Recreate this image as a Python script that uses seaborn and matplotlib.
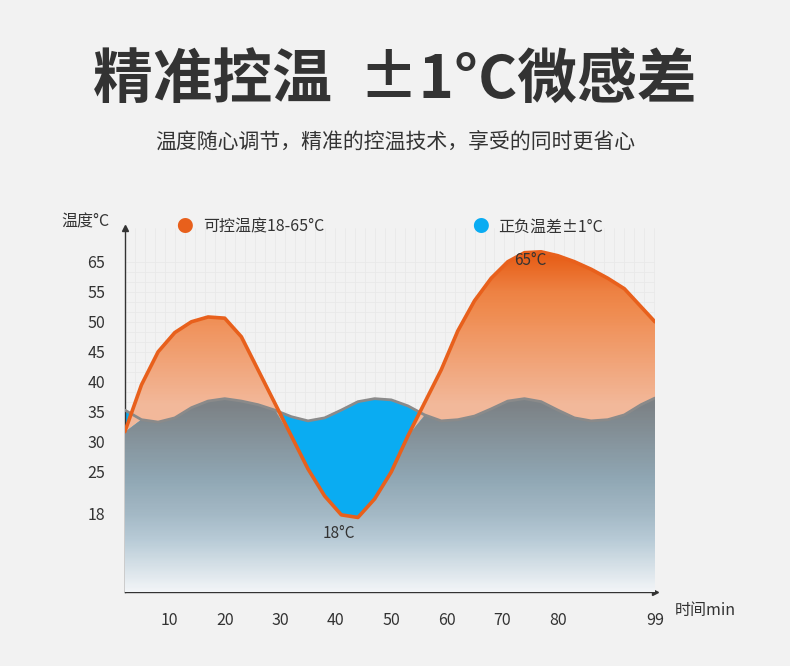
import numpy as np
import pandas as pd
import matplotlib
matplotlib.use("Agg")
import matplotlib.pyplot as plt
from matplotlib.colors import LinearSegmentedColormap
from matplotlib.patches import PathPatch
import seaborn as sns

# data
minutes = [2, 5, 8, 11, 14, 17, 20, 23, 26, 29, 32, 35, 38, 41, 44, 47, 50,
           53, 56, 59, 62, 65, 68, 71, 74, 77, 80, 83, 86, 89, 92, 95, 97.5]
temp_range = [31.7, 39.5, 45, 48.2, 50, 50.8, 50.6, 47.5, 42, 36.5, 31, 25.5, 21,
              17.8, 17.2, 20.5, 25, 31, 36.5, 42, 48.5, 53.5, 59.5, 65, 68, 68.3,
              67, 65, 62.5, 59.5, 56, 52.5, 50]
temp_wave = [35.3, 33.7, 33.3, 34, 35.7, 36.8, 37.2, 36.8, 36.2, 35.3, 34.2, 33.5,
             34, 35.3, 36.7, 37.2, 37, 36, 34.5, 33.5, 33.7, 34.3, 35.5, 36.8, 37.2,
             36.7, 35.3, 34, 33.5, 33.7, 34.5, 36.2, 37.3]
y_ticks = [18, 25, 30, 35, 40, 45, 50, 55, 65]
x_ticks = [10, 20, 30, 40, 50, 60, 70, 80, 97.5]
x_labels = ["10", "20", "30", "40", "50", "60", "70", "80", "99"]
legend_names = ["可控温度18-65°C", "正负温差±1°C"]

df = pd.DataFrame({"min": minutes, "range": temp_range, "wave": temp_wave})

sns.set_theme(style="white")
plt.rcParams["font.family"] = ["Noto Sans CJK SC", "DejaVu Sans"]

# uneven temperature axis as in the picture
scale_v = [0, 18, 25, 30, 35, 40, 45, 50, 55, 65, 80]
scale_p = [0, 78, 120, 150, 180, 210, 240, 270, 300, 330, 375]
fwd = lambda v: np.interp(v, scale_v, scale_p)
inv = lambda p: np.interp(p, scale_p, scale_v)

fig = plt.figure(figsize=(7.9, 6.66), dpi=100, facecolor="#f2f2f2")
ax = fig.add_axes([0.158, 0.111, 0.671, 0.547])
ax.set_facecolor("#f2f2f2")
ax.set_yscale("function", functions=(fwd, inv))
ax.set_xlim(2, 97.5)
ax.set_ylim(0, 76.3)

# faint background grid
for gx in np.arange(2, 98, 1.8):
    ax.axvline(gx, color="#e9e9e9", lw=0.6, zorder=0)
for gp in np.arange(0, 340, 10):
    ax.axhline(inv(gp), color="#e9e9e9", lw=0.6, zorder=0)

x = df["min"].values
lo = np.minimum(df["range"].values, df["wave"].values)


def gradient(upper, lower, colors, vmin, vmax, z):
    verts = np.vstack([np.column_stack([x, upper]), np.column_stack([x[::-1], lower[::-1]])])
    patch = PathPatch(matplotlib.path.Path(verts, closed=False), transform=ax.transData,
                      facecolor="none", edgecolor="none")
    ax.add_patch(patch)
    ys = np.linspace(0, 76.3, 300)
    cmap = LinearSegmentedColormap.from_list("g", colors)
    mesh = ax.pcolormesh([2, 97.5], ys, ys[:-1, None], cmap=cmap,
                         vmin=vmin, vmax=vmax, zorder=z, shading="flat")
    mesh.set_clip_path(patch)


# blue band (wave above orange)
ax.fill_between(x, lo, df["wave"], color="#0aacf2", lw=0, zorder=2)
# orange band (orange above wave)
gradient(df["range"].values, lo, ["#f2b89a", "#ef8a4e", "#e65a12"], 36, 68, 2)
# gray-blue lower area
gradient(lo, np.zeros_like(lo), ["#f2f5f7", "#b7cad6", "#8fa6b3", "#7c8286"], 0, 36, 3)

sns.lineplot(data=df, x="min", y="wave", color="#8a8a8a", lw=2, ax=ax, zorder=4)
sns.lineplot(data=df, x="min", y="range", color="#e8601c", lw=2.6, ax=ax, zorder=5)

ax.text(75, 65.5, "65°C", ha="center", va="center", fontsize=11, color="#333333", zorder=6)
ax.text(40.5, 13.5, "18°C", ha="center", va="center", fontsize=11, color="#333333", zorder=6)

ax.set_yticks(y_ticks)
ax.set_yticklabels([str(t) for t in y_ticks])
ax.set_xticks(x_ticks)
ax.set_xticklabels(x_labels)
ax.tick_params(length=0, labelsize=11.5, colors="#333333", pad=14)
ax.set_xlabel("")
ax.set_ylabel("")
for s in ["top", "right"]:
    ax.spines[s].set_visible(False)
for s in ["left", "bottom"]:
    ax.spines[s].set_color("#333333")
    ax.spines[s].set_linewidth(1)
ax.plot(1, 0, ">", color="#333333", ms=4, transform=ax.transAxes, clip_on=False)
ax.plot(0, 1, "^", color="#333333", ms=4, transform=ax.transAxes, clip_on=False)

fig.text(0.108, 0.666, "温度°C", fontsize=11.5, color="#333333", ha="center", va="center")
fig.text(0.893, 0.084, "时间min", fontsize=11.5, color="#333333", ha="center", va="center")

# legend
fig.text(0.234, 0.659, "●", fontsize=12, color="#e8601c", ha="center", va="center")
fig.text(0.257, 0.659, legend_names[0], fontsize=11.5, color="#333333", va="center")
fig.text(0.608, 0.659, "●", fontsize=12, color="#0aacf2", ha="center", va="center")
fig.text(0.631, 0.659, legend_names[1], fontsize=11.5, color="#333333", va="center")

fig.text(0.5, 0.877, "精准控温  ±1°C微感差", fontsize=43, fontweight="bold",
         color="#333333", ha="center", va="center")
fig.text(0.5, 0.785, "温度随心调节，精准的控温技术，享受的同时更省心", fontsize=15,
         color="#333333", ha="center", va="center")

fig.savefig("out.png", dpi=100, facecolor=fig.get_facecolor())
